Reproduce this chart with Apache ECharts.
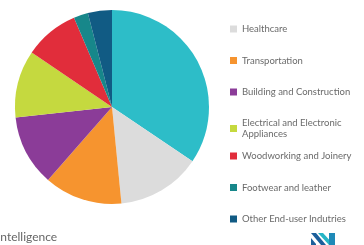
<!DOCTYPE html>
<html>
<head>
<meta charset="utf-8">
<script src="https://cdn.jsdelivr.net/npm/echarts@6/dist/echarts.min.js"></script>
<style>
  html, body { margin: 0; padding: 0; background: #fff; }
  #main { width: 364px; height: 245px; }
</style>
</head>
<body>
<div id="main"></div>
<script>
// segment names, shares (%) and colours
var categories = ['Packaging', 'Healthcare', 'Transportation', 'Building and Construction',
  'Electrical and Electronic Appliances', 'Woodworking and Joinery', 'Footwear and leather',
  'Other End-user Indutries'];
var shares = [34.4, 14.0, 13.0, 11.8, 11.2, 9.1, 2.4, 4.0];
var colors = ['#2dbdc8', '#dcdcdc', '#f6942f', '#8b3c98', '#c5d93f', '#e12d3b', '#17878a', '#115b84'];
// legend shows everything but the first (its entry is above the crop),
// split in two columns blocks so the two-line entry doesn't push the rest down
var legendTop = categories.slice(1, 5);
var legendBottom = categories.slice(5);

document.addEventListener('DOMContentLoaded', function() {
  var myChart = echarts.init(document.getElementById('main'));

  var pieData = categories.map(function(name, i) {
    return { name: name, value: shares[i], itemStyle: { color: colors[i] } };
  });

  function legendItems(names) {
    return names.map(function(name) {
      if (name.indexOf('Electrical') === 0) {
        // two line entry, icon sits on the first line
        return { name: name, textStyle: { padding: [0, 0, -19, 0] } };
      }
      return { name: name };
    });
  }

  var legendBase = {
    orient: 'vertical',
    left: 230,
    padding: 0,
    itemWidth: 7,
    itemHeight: 7,
    itemGap: 20.5,
    icon: 'rect',
    formatter: function(name) {
      return name.indexOf('Electrical') === 0 ? 'Electrical and Electronic\nAppliances' : name;
    },
    textStyle: { fontFamily: 'Lato', fontSize: 9.5, color: '#6a6a6a', lineHeight: 11 }
  };

  var option = {
    animation: false,
    legend: [
      Object.assign({}, legendBase, { top: 23.5, data: legendItems(legendTop) }),
      Object.assign({}, legendBase, { top: 150.5, data: legendItems(legendBottom) })
    ],
    series: [
      {
        type: 'pie',
        center: [112, 107],
        radius: 97,
        startAngle: 90,
        clockwise: true,
        label: { show: false },
        labelLine: { show: false },
        emphasis: { disabled: true },
        data: pieData
      }
    ],
    graphic: [
      {
        type: 'text',
        left: -3,
        top: 231,
        style: { text: 'Intelligence', font: '12px Lato', fill: '#666', letterSpacing: 0.6 }
      },
      // logo
      { type: 'polygon', shape: { points: [[311, 233], [316, 233], [326, 245], [321, 245]] }, style: { fill: '#1c5f9b' } },
      { type: 'polygon', shape: { points: [[311, 238], [316, 244], [316, 245], [311, 245]] }, style: { fill: '#1c5f9b' } },
      { type: 'polygon', shape: { points: [[318, 233], [323, 233], [334, 245], [329, 245]] }, style: { fill: '#26b5c6' } },
      { type: 'polygon', shape: { points: [[329, 233], [335, 233], [335, 245], [329, 245]] }, style: { fill: '#1f8ab8' } }
    ]
  };

  myChart.setOption(option);
});
</script>
</body>
</html>
